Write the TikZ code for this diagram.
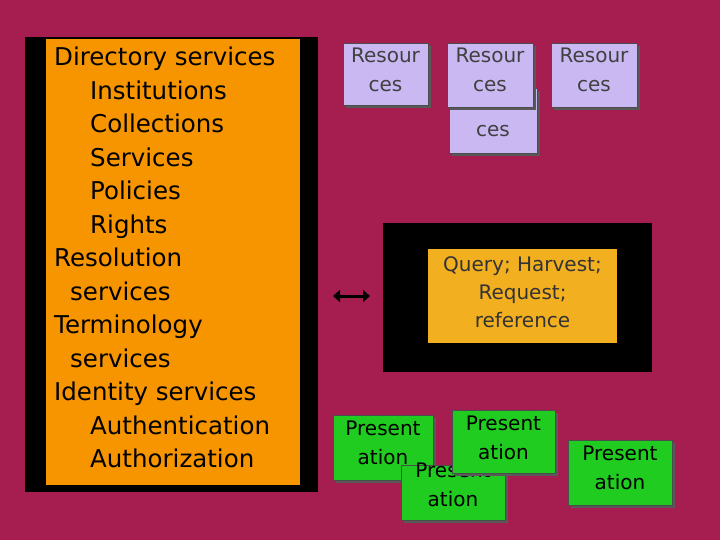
\documentclass[tikz,border=0pt]{standalone}
\usepackage{fontspec}
\usetikzlibrary{arrows.meta}
\setmainfont{DejaVu Sans}
\definecolor{bg}{HTML}{A51E4F}
\definecolor{org}{HTML}{F79500}
\definecolor{gold}{HTML}{F2B021}
\definecolor{lav}{HTML}{C9B8F2}
\definecolor{grn}{HTML}{1FCC1F}
\begin{document}
\begin{tikzpicture}[x=1pt,y=-1pt,
  box/.style={draw=black!70, line width=0.6pt, inner sep=0pt, anchor=north west},
  txt/.style={inner sep=0pt, align=center, anchor=north,
    font=\fontsize{20}{29}\selectfont},
  res/.style={box, fill=lav},
  pres/.style={box, fill=grn},
  shad/.style={fill=black!65}]
\useasboundingbox (0,0) rectangle (720,540);
\fill[bg] (0,0) rectangle (720,540);
% left panel
\fill[black] (25,37) rectangle (318,492);
\node[anchor=north west, fill=org, minimum width=254pt, minimum height=446pt,
  inner sep=0pt] (dir) at (46,39) {};
\node[anchor=north west, align=left, font=\fontsize{24.5}{33.5}\selectfont, inner sep=0pt]
  (dirtxt) at (54,47) {Directory services\\
  \hspace*{36pt}Institutions\\ \hspace*{36pt}Collections\\ \hspace*{36pt}Services\\
  \hspace*{36pt}Policies\\ \hspace*{36pt}Rights\\ Resolution\\ \hspace*{16pt}services\\
  Terminology\\ \hspace*{16pt}services\\ Identity services\\
  \hspace*{36pt}Authentication\\ \hspace*{36pt}Authorization};
% resources
\fill[shad] (452,91) rectangle (540,156);
\node[res, minimum width=88pt, minimum height=65pt] (r4) at (449,88) {};
\node[txt, text=black!75] (t4) at (493,93) {Resour\\ces};
\fill[shad] (346,46) rectangle (431,108);
\node[res, minimum width=85pt, minimum height=62pt] (r1) at (343,43) {};
\node[txt, text=black!75] (t1) at (385.5,48) {Resour\\ces};
\fill[shad] (450,46) rectangle (536,110);
\node[res, minimum width=86pt, minimum height=64pt] (r2) at (447,43) {};
\node[txt, text=black!75] (t2) at (490,48) {Resour\\ces};
\fill[shad] (554,46) rectangle (640,110);
\node[res, minimum width=86pt, minimum height=64pt] (r3) at (551,43) {};
\node[txt, text=black!75] (t3) at (594,48) {Resour\\ces};
% middle
\fill[black] (383,223) rectangle (652,372);
\node[box, draw=none, fill=gold, minimum width=189pt, minimum height=94pt] (q) at (428,249) {};
\node[txt, text=black!80, font=\fontsize{20}{28}\selectfont] (qt) at (522.5,256)
  {Query; Harvest;\\Request;\\reference};
\coordinate (al) at (333,296);
\coordinate (ar) at (370,296);
\draw[line width=3pt, {Triangle[length=7pt,width=12pt]}-{Triangle[length=7pt,width=12pt]}]
  (al) -- (ar);
% presentation
\fill[shad] (336,418) rectangle (436,483);
\node[pres, minimum width=100pt, minimum height=65pt] (p1) at (333,415) {};
\node[txt] (q1) at (383,421) {Present\\ation};
\fill[shad] (404,468) rectangle (508,523);
\node[pres, minimum width=104pt, minimum height=55pt] (p3) at (401,465) {};
\node[txt] (q3) at (453,463) {Present\\ation};
\fill[shad] (455,413) rectangle (558,476);
\node[pres, minimum width=103pt, minimum height=63pt] (p2) at (452,410) {};
\node[txt] (q2) at (503.5,416) {Present\\ation};
\fill[shad] (571,443) rectangle (675,508);
\node[pres, minimum width=104pt, minimum height=65pt] (p4) at (568,440) {};
\node[txt] (q4) at (620,446) {Present\\ation};
\end{tikzpicture}
\end{document}
